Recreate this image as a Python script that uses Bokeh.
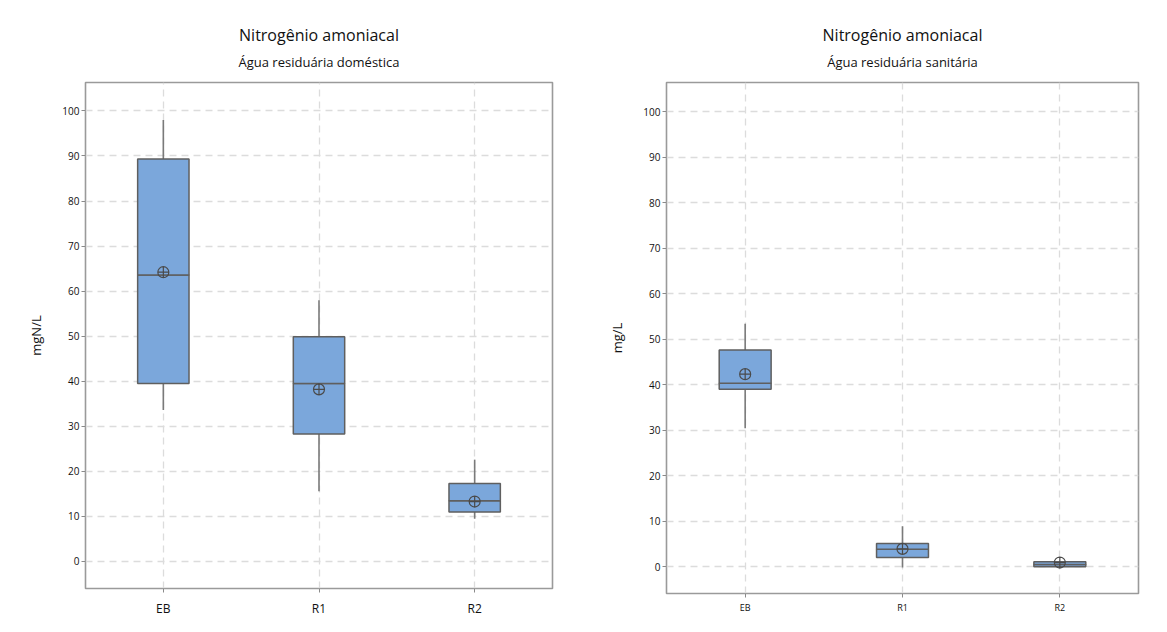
from bokeh.plotting import figure
from bokeh.layouts import row
from bokeh.models import Title, FixedTicker, ColumnDataSource
from bokeh.embed import file_html
from bokeh.resources import INLINE

categories = ["EB", "R1", "R2"]

# Panel 1: Água residuária doméstica (mgN/L)
dom_lower = [33.6, 15.6, 9.5]
dom_q1 = [39.5, 28.3, 11.0]
dom_median = [63.6, 39.5, 13.5]
dom_q3 = [89.3, 49.9, 17.3]
dom_upper = [98.0, 58.0, 22.6]
dom_mean = [64.2, 38.2, 13.3]

# Panel 2: Água residuária sanitária (mg/L)
san_lower = [30.4, -0.2, 0.0]
san_q1 = [39.0, 2.0, 0.0]
san_median = [40.3, 3.8, 0.5]
san_q3 = [47.6, 5.1, 1.1]
san_upper = [53.4, 8.9, 1.2]
san_mean = [42.3, 3.9, 0.9]

y_ticks = [0, 10, 20, 30, 40, 50, 60, 70, 80, 90, 100]

FONT = "Open Sans"
BOX_FILL = "#7ba7db"
BOX_LINE = "#5f5f5f"
WHISK = "#7a7a7a"
GRID = "#dcdcdc"


def make_panel(subtitle, ylabel, lower, q1, med, q3, upper, mean,
               xfont, xstand, w, h, bl, br, bb, ymin, ymax):
    p = figure(x_range=categories, y_range=(ymin, ymax), width=w, height=h,
               output_backend="svg", toolbar_location=None,
               min_border_left=bl, min_border_right=br, min_border_bottom=bb,
               min_border_top=82, align="start")
    p.title = None
    p.add_layout(Title(text=subtitle, align="center", text_font=FONT,
                       text_font_size="13px", text_font_style="normal",
                       text_color="#111111", standoff=23, offset=0), "above")
    p.add_layout(Title(text="Nitrogênio amoniacal", align="center", text_font=FONT,
                       text_font_size="16px", text_font_style="normal",
                       text_color="#111111", standoff=-13), "above")

    src = ColumnDataSource(dict(cat=categories, lower=lower, q1=q1, med=med,
                                q3=q3, upper=upper, mean=mean))
    p.segment(x0="cat", y0="q3", x1="cat", y1="upper", source=src,
              line_color=WHISK, line_width=1.6)
    p.segment(x0="cat", y0="lower", x1="cat", y1="q1", source=src,
              line_color=WHISK, line_width=1.6)
    p.vbar(x="cat", bottom="q1", top="med", width=0.33, source=src,
           fill_color=BOX_FILL, line_color=BOX_LINE, line_width=1.5)
    p.vbar(x="cat", bottom="med", top="q3", width=0.33, source=src,
           fill_color=BOX_FILL, line_color=BOX_LINE, line_width=1.5)
    p.scatter(x="cat", y="mean", source=src, marker="circle_cross", size=11,
              fill_color=None, line_color="#4a4a4a", line_width=1.2)

    p.yaxis.ticker = FixedTicker(ticks=y_ticks)
    p.yaxis.axis_label = ylabel
    p.yaxis.axis_label_text_font = FONT
    p.yaxis.axis_label_text_font_size = "13px"
    p.yaxis.axis_label_text_font_style = "normal"
    p.yaxis.axis_label_text_color = "#111111"
    p.yaxis.axis_label_standoff = 14
    for ax in (p.xaxis, p.yaxis):
        ax.axis_line_color = None
        ax.major_tick_line_color = "#8a8a8a"
        ax.major_tick_out = 4
        ax.major_tick_in = 0
        ax.minor_tick_line_color = None
        ax.major_label_text_font = FONT
        ax.major_label_text_color = "#111111"
    p.yaxis.major_label_text_font_size = "10px"
    p.yaxis.major_label_standoff = 2
    p.xaxis.major_label_text_font_size = xfont
    p.xaxis.major_label_standoff = xstand

    p.xgrid.grid_line_color = GRID
    p.ygrid.grid_line_color = GRID
    p.xgrid.grid_line_dash = "7 5"
    p.ygrid.grid_line_dash = "7 5"
    p.xgrid.grid_line_width = 1.3
    p.ygrid.grid_line_width = 1.3

    p.outline_line_color = "#9a9a9a"
    p.outline_line_width = 1.6
    p.outline_line_alpha = 1.0
    p.background_fill_color = "white"
    p.border_fill_color = "white"
    return p


p1 = make_panel("Água residuária doméstica", "mgN/L", dom_lower, dom_q1,
                dom_median, dom_q3, dom_upper, dom_mean, "12px", 7,
                580, 619, 85, 28, 30, -6.0, 106.3)
p2 = make_panel("Água residuária sanitária", "mg/L", san_lower, san_q1,
                san_median, san_q3, san_upper, san_mean, "9px", 3,
                580, 624, 86, 22, 30, -5.9, 106.4)

layout = row(p1, p2)
open("out.html", "w").write(file_html(layout, INLINE))
